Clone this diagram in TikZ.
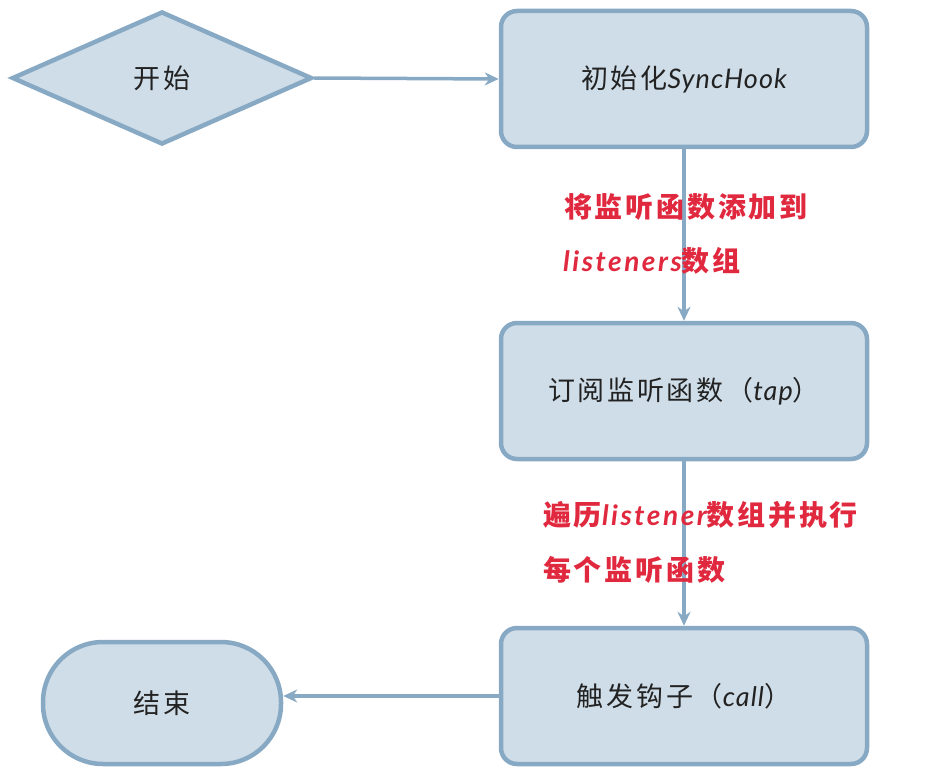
\documentclass[tikz,border=0pt]{standalone}
\usepackage{fontspec}
\setmainfont{Noto Sans CJK SC}[LetterSpace=10]
\newfontfamily\lat{Lato}[LetterSpace=4]
\newfontfamily\latw{Lato}[LetterSpace=9]
\usetikzlibrary{arrows.meta,shapes.geometric}
\definecolor{fillb}{HTML}{CFDDE8}
\definecolor{lineb}{HTML}{88A9C4}
\definecolor{redt}{HTML}{E0293F}
\definecolor{txt}{HTML}{222222}
\begin{document}
\begin{tikzpicture}[x=1pt,y=-1pt,
  shapebase/.style={draw=lineb,fill=fillb,line width=4.5pt,text=txt,inner sep=0pt,
    font=\fontsize{27pt}{31pt}\selectfont},
  box/.style={shapebase,rectangle,rounded corners=16pt,minimum width=366pt,minimum height=136pt},
  startshape/.style={shapebase,diamond,minimum width=300pt,minimum height=133pt},
  endshape/.style={shapebase,rectangle,rounded corners=60pt,minimum width=238pt,minimum height=122pt},
  arr/.style={draw=lineb,line width=3.5pt,-{Stealth[length=14pt,width=13pt]}},
  redlab/.style={text=redt,anchor=west,inner sep=0pt,font=\fontsize{28pt}{32pt}\selectfont\bfseries}
]
\useasboundingbox (0,0) rectangle (929,770);
\node[startshape] (start) at (162,78) {开始};
\node[box] (init) at (684,79) {初始化{\lat\itshape SyncHook}};
\node[box] (tap) at (684,391) {订阅监听函数（{\lat\itshape tap}）};
\node[box] (call) at (684,696) {触发钩子（{\lat\itshape call}）};
\node[endshape] (stop) at (162,703) {结束};

\draw[arr] (start.east) -- (init.west);
\draw[arr] (init.south) -- (tap.north);
\draw[arr] (tap.south) -- (call.north);
\draw[arr] (call.west) -- (call.west -| stop.east);

\node[redlab] (l1a) at (564,207) {将监听函数添加到};
\node[redlab] (l1b) at (563,261) {{\latw\itshape\bfseries listeners}数组};
\node[redlab] (l2a) at (543,515) {遍历{\latw\itshape\bfseries listener}数组并执行};
\node[redlab] (l2b) at (543,570) {每个监听函数};
\end{tikzpicture}
\end{document}
